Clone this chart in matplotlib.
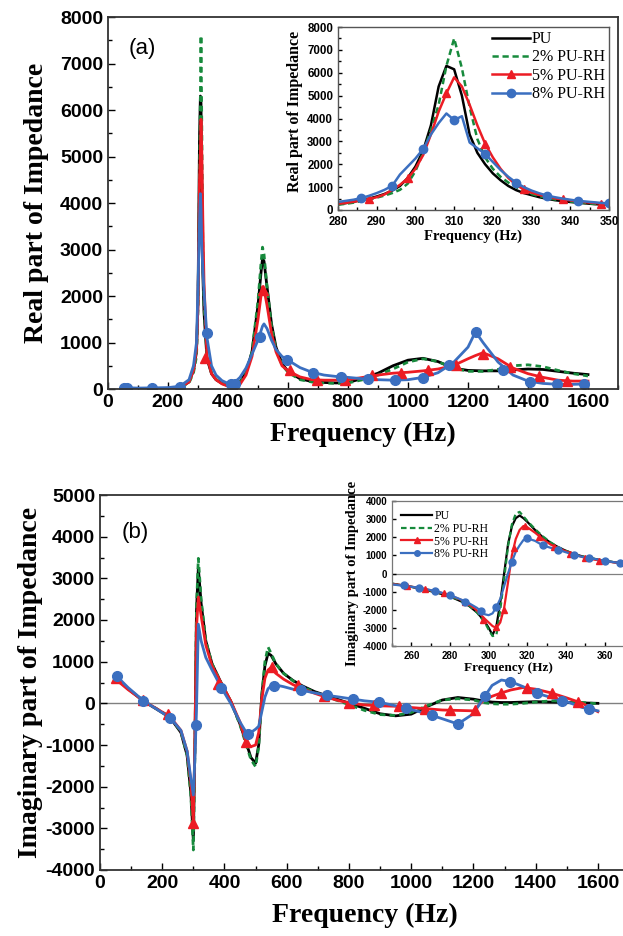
import matplotlib
matplotlib.use('Agg')
import matplotlib.pyplot as plt
from matplotlib.ticker import MultipleLocator
from matplotlib.lines import Line2D

plt.rcParams['font.family'] = ['Liberation Sans', 'DejaVu Sans']
plt.rcParams['font.weight'] = 'bold'
plt.rcParams['axes.unicode_minus'] = False

labels = ['PU', '2% PU-RH', '5% PU-RH', '8% PU-RH']
colors = ['#000000', '#178a3c', '#ec1c24', '#3b6fc0']

# ---------------- (a) main: real part ----------------
freq_a = [50, 100, 150, 200, 240, 270, 285, 295, 300, 305, 308, 310, 313, 316, 320, 330, 345, 360, 380, 400,
          420, 440, 460, 480, 500, 510, 515, 520, 530, 545, 560, 580, 600, 640, 680, 720, 760, 800, 850, 900,
          950, 1000, 1050, 1100, 1150, 1200, 1225, 1250, 1300, 1350, 1400, 1450, 1500, 1550, 1600]
real_pu = [10, 5, 5, 10, 30, 150, 400, 800, 1900, 5400, 6300, 6150, 4200, 2500, 1650, 650, 330, 200, 120, 80,
           80, 150, 350, 800, 1800, 2500, 2800, 2750, 2200, 1400, 900, 550, 380, 220, 160, 140, 130, 140, 230, 340,
           500, 620, 660, 590, 450, 400, 395, 390, 390, 410, 430, 420, 380, 340, 310]
real_2 = [10, 5, 5, 10, 30, 130, 350, 700, 1700, 4600, 6300, 7600, 5400, 3100, 1800, 700, 350, 210, 120, 70,
          70, 140, 340, 800, 1900, 2700, 3050, 2900, 2200, 1350, 850, 520, 360, 200, 150, 130, 120, 130, 200, 300,
          430, 580, 650, 590, 450, 380, 380, 380, 420, 500, 520, 480, 400, 330, 280]
real_5 = [15, 10, 10, 15, 40, 150, 400, 850, 1800, 4500, 5100, 5800, 5000, 3700, 2300, 700, 330, 200, 110, 60,
          50, 100, 300, 700, 1500, 2000, 2200, 2150, 1800, 1200, 800, 500, 390, 260, 200, 190, 190, 200, 250, 300,
          340, 360, 390, 430, 500, 650, 720, 780, 650, 450, 330, 250, 190, 170, 170]
real_8 = [30, 20, 25, 30, 60, 200, 500, 1000, 2200, 3600, 4200, 3900, 3000, 2600, 2100, 1100, 500, 300, 180, 120,
          130, 250, 450, 750, 1050, 1250, 1350, 1400, 1300, 1050, 850, 700, 620, 460, 360, 300, 270, 250, 220, 200,
          190, 200, 250, 350, 560, 900, 1230, 1000, 580, 300, 170, 120, 100, 100, 110]
mk_a5_f = [323, 417, 518, 607, 697, 790, 880, 975, 1065, 1160, 1250, 1340, 1435, 1530]
mk_a5_v = [660, 40, 2130, 400, 195, 200, 300, 350, 410, 515, 760, 470, 270, 170]
mk_a8_f = [55, 65, 146, 240, 329, 410, 422, 507, 596, 684, 778, 868, 957, 1050, 1137, 1227, 1317, 1407, 1497, 1587]
mk_a8_v = [30, 30, 30, 40, 1210, 100, 110, 1125, 620, 340, 260, 215, 190, 245, 510, 1225, 410, 160, 100, 100]

# ---------------- (a) inset ----------------
freq_ai = [280, 282, 284, 286, 288, 290, 292, 294, 296, 298, 300, 302, 304, 306, 308, 310, 312, 314, 316, 318,
           320, 322, 324, 326, 328, 330, 332, 334, 336, 338, 340, 342, 344, 346, 348, 350]
ri_pu = [250, 300, 360, 430, 500, 590, 700, 850, 1050, 1400, 1900, 2600, 3700, 5400, 6300, 6150, 5000, 3300, 2500, 2000,
         1600, 1300, 1050, 870, 740, 650, 560, 490, 430, 390, 350, 320, 290, 260, 240, 220]
ri_2 = [230, 270, 320, 390, 460, 540, 630, 740, 880, 1150, 1700, 2500, 3500, 4600, 6300, 7500, 6200, 4500, 3100, 2300,
        1800, 1450, 1200, 1000, 830, 700, 600, 520, 460, 410, 370, 330, 300, 270, 250, 230]
ri_5 = [270, 310, 360, 420, 480, 560, 680, 880, 1100, 1380, 1800, 2400, 3300, 4300, 5100, 5800, 5400, 4600, 3700, 2900,
        2300, 1800, 1400, 1100, 900, 760, 660, 580, 510, 460, 420, 380, 340, 310, 280, 260]
ri_8 = [350, 400, 450, 520, 620, 740, 880, 1060, 1550, 1900, 2250, 2670, 3300, 3800, 4220, 3930, 4100, 2950, 2700, 2450,
        2100, 1750, 1450, 1200, 1000, 850, 730, 630, 560, 500, 450, 400, 370, 340, 310, 290]

# ---------------- (b) main: imaginary part ----------------
freq_b = [50, 90, 140, 180, 225, 260, 280, 292, 300, 305, 310, 316, 325, 340, 360, 390, 420, 450, 470, 485,
          500, 510, 520, 530, 540, 550, 565, 590, 620, 650, 690, 730, 770, 810, 850, 900, 950, 1000, 1050, 1100,
          1150, 1200, 1230, 1260, 1290, 1320, 1360, 1400, 1450, 1500, 1550, 1600]
imag_pu = [620, 350, 50, -130, -340, -700, -1250, -2150, -3300, -1000, 2200, 3250, 2400, 1500, 950, 480, 50, -500, -950, -1300,
           -1440, -1000, 200, 900, 1200, 1150, 950, 720, 550, 420, 280, 180, 80, -20, -120, -250, -300, -260, -80, 80,
           140, 100, 60, 30, 20, 20, 30, 40, 30, 20, 10, 0]
imag_2 = [620, 350, 60, -120, -330, -680, -1250, -2200, -3520, -1200, 2300, 3480, 2500, 1500, 950, 480, 50, -520, -1000, -1350,
          -1520, -1050, 200, 1000, 1350, 1200, 950, 720, 540, 400, 260, 150, 50, -60, -170, -270, -290, -220, -60, 80,
          110, 80, 20, -10, -20, -20, 0, 30, 60, 50, 20, -10]
imag_5 = [580, 330, 60, -120, -320, -650, -1150, -1900, -2880, -900, 1800, 2550, 2100, 1400, 900, 480, 60, -450, -950, -1040,
          -1000, -700, 100, 600, 800, 860, 720, 580, 450, 350, 240, 140, 60, 0, -40, -60, -70, -100, -130, -160,
          -170, -180, 60, 170, 250, 320, 380, 340, 250, 130, 0, -200]
imag_8 = [680, 380, 60, -130, -344, -650, -1150, -1800, -2200, -1300, -200, 1900, 1500, 1100, 800, 376, 0, -450, -700, -700,
          -620, -550, -200, 150, 350, 420, 440, 400, 340, 310, 250, 192, 150, 105, 60, 24, -60, -150, -250, -370,
          -496, -250, 100, 430, 560, 520, 400, 250, 140, 40, -100, -180]
mk_b5_f = [50, 137, 218, 300, 378, 468, 552, 636, 720, 800, 880, 962, 1045, 1125, 1205, 1290, 1372, 1452, 1537]
mk_b5_v = [600, 80, -260, -2880, 460, -920, 880, 440, 180, 0, -50, -70, -130, -160, -170, 250, 380, 240, 40]
mk_b8_f = [54, 139, 225, 308, 389, 475, 560, 646, 729, 812, 898, 982, 1067, 1151, 1236, 1318, 1404, 1486, 1571]
mk_b8_v = [655, 56, -344, -520, 376, -736, 424, 320, 192, 104, 24, -120, -280, -496, 184, 520, 240, 56, -144]

# ---------------- (b) inset ----------------
freq_bi = [250, 256, 262, 268, 274, 280, 286, 290, 294, 298, 300, 302, 304, 306, 308, 310, 312, 314, 316, 318,
           320, 324, 328, 332, 336, 340, 345, 350, 355, 360, 365, 370]
ii_pu = [-560, -660, -780, -920, -1080, -1270, -1550, -1800, -2150, -2650, -3000, -3400, -2900, -1600, 0, 1600, 2600, 3050, 3200, 3050,
         2850, 2400, 2000, 1700, 1450, 1250, 1050, 900, 800, 700, 620, 550]
ii_2 = [-560, -650, -770, -900, -1060, -1250, -1520, -1780, -2150, -2700, -3100, -3450, -3400, -2000, -300, 1500, 2700, 3300, 3400, 3150,
        2900, 2450, 2050, 1720, 1450, 1250, 1050, 900, 800, 700, 620, 550]
ii_5 = [-580, -660, -760, -880, -1020, -1200, -1470, -1700, -2050, -2500, -2700, -2900, -3000, -2700, -1900, -500, 1000, 1900, 2400, 2620,
        2550, 2250, 1900, 1600, 1400, 1220, 1020, 860, 760, 680, 610, 550]
ii_8 = [-600, -680, -760, -870, -1010, -1190, -1450, -1650, -1900, -2250, -2300, -2200, -1850, -1400, -700, 0, 640, 1200, 1550, 1850,
        1940, 1800, 1550, 1420, 1310, 1170, 1000, 880, 800, 700, 620, 560]
mk_bi5_f = [258, 267, 277, 288, 297, 304, 308, 313, 319, 326, 334, 342, 350, 357]
mk_bi5_v = [-670, -860, -1100, -1570, -2550, -2950, -2000, 1400, 2620, 1990, 1460, 1050, 840, 710]
mk_bi8_f = [256, 264, 272, 280, 288, 296, 304, 312, 320, 328, 336, 344, 352, 360, 368]
mk_bi8_v = [-650, -780, -960, -1190, -1570, -2090, -1850, 640, 1940, 1550, 1310, 1030, 850, 700, 560]

W, H = 623, 936
fig = plt.figure(figsize=(W / 100, H / 100), dpi=100)


def rect(l, t, r, b):
    return [l / W, 1 - b / H, (r - l) / W, (b - t) / H]


serif = ['Liberation Serif', 'DejaVu Serif']


def style(ax, size, major_len, minor_len, spine_c, spine_w):
    for s in ax.spines.values():
        s.set_linewidth(spine_w)
        s.set_color(spine_c)
    ax.tick_params(which='both', direction='in', top=False, right=False, labelsize=size, width=1.0)
    ax.tick_params(which='major', length=major_len)
    ax.tick_params(which='minor', length=minor_len)
    for lab in ax.get_xticklabels() + ax.get_yticklabels():
        lab.set_fontweight('bold')


def draw(ax, f, series, lw, mk5, mk8, ms, dashed_pat):
    pu, s2, s5, s8 = series
    ax.plot(f, pu, color=colors[0], lw=lw, label=labels[0])
    ax.plot(f, s2, color=colors[1], lw=lw, ls=(0, dashed_pat), label=labels[1])
    ax.plot(f, s5, color=colors[2], lw=lw, label=labels[2])
    ax.plot(f, s8, color=colors[3], lw=lw, label=labels[3])
    ax.plot(mk5[0], mk5[1], ls='none', marker='^', color=colors[2], ms=ms)
    ax.plot(mk8[0], mk8[1], ls='none', marker='o', color=colors[3], ms=ms)


# ---- panel (a) ----
axA = fig.add_axes(rect(108, 17, 618, 389))
draw(axA, freq_a, (real_pu, real_2, real_5, real_8), 2.0,
     (mk_a5_f, mk_a5_v), (mk_a8_f, mk_a8_v), 7, (2, 1.5))
axA.set_xlim(0, 1700)
axA.set_ylim(0, 8000)
axA.set_xticks([0, 200, 400, 600, 800, 1000, 1200, 1400, 1600])
axA.xaxis.set_minor_locator(MultipleLocator(100))
axA.yaxis.set_major_locator(MultipleLocator(1000))
axA.yaxis.set_minor_locator(MultipleLocator(500))
style(axA, 14, 5, 3, '#333333', 1.3)
axA.set_xlabel('Frequency (Hz)', family=serif, fontweight='bold', fontsize=20, labelpad=8)
axA.set_ylabel('Real part of Impedance', family=serif, fontweight='bold', fontsize=20, labelpad=8)
axA.text(0.04, 0.915, '(a)', transform=axA.transAxes, fontsize=16, fontweight='normal',
         va='center', ha='left')

# inset (a)
axAi = fig.add_axes(rect(338, 27, 609, 210))
axAi.plot(freq_ai, ri_pu, color=colors[0], lw=1.8, label=labels[0])
axAi.plot(freq_ai, ri_2, color=colors[1], lw=1.8, ls=(0, (2.5, 1.5)), label=labels[1])
axAi.plot(freq_ai, ri_5, color=colors[2], lw=1.8, marker='^', ms=6, markevery=(4, 5), label=labels[2])
axAi.plot(freq_ai, ri_8, color=colors[3], lw=1.8, marker='o', ms=6, markevery=(3, 4), label=labels[3])
axAi.set_xlim(280, 350)
axAi.set_ylim(0, 8000)
axAi.xaxis.set_major_locator(MultipleLocator(10))
axAi.xaxis.set_minor_locator(MultipleLocator(5))
axAi.yaxis.set_major_locator(MultipleLocator(1000))
axAi.yaxis.set_minor_locator(MultipleLocator(500))
style(axAi, 8.3, 3, 2, '#555555', 1.0)
axAi.tick_params(axis='x', pad=4.5)
axAi.tick_params(axis='y', pad=3.5)
axAi.set_xlabel('Frequency (Hz)', family=serif, fontweight='bold', fontsize=10.5, labelpad=1)
axAi.set_ylabel('Real part of Impedance', family=serif, fontweight='bold', fontsize=11.5, labelpad=3, y=0.54)
axAi.legend(loc='upper right', bbox_to_anchor=(1.02, 1.03), frameon=False,
            prop={'family': serif, 'size': 11.5, 'weight': 'normal'},
            handlelength=2.4, handletextpad=0.1, labelspacing=0.15, borderaxespad=0.2)

# ---- panel (b) ----
axB = fig.add_axes(rect(100, 495, 629, 870))
axB.axhline(0, color='#808080', lw=1.0, zorder=1)
draw(axB, freq_b, (imag_pu, imag_2, imag_5, imag_8), 2.0,
     (mk_b5_f, mk_b5_v), (mk_b8_f, mk_b8_v), 7, (2, 1.5))
axB.set_xlim(0, 1700)
axB.set_ylim(-4000, 5000)
axB.set_xticks([0, 200, 400, 600, 800, 1000, 1200, 1400, 1600])
axB.xaxis.set_minor_locator(MultipleLocator(100))
axB.yaxis.set_major_locator(MultipleLocator(1000))
axB.yaxis.set_minor_locator(MultipleLocator(500))
style(axB, 14, 5, 3, '#333333', 1.3)
axB.set_xlabel('Frequency (Hz)', family=serif, fontweight='bold', fontsize=20, labelpad=8)
axB.set_ylabel('Imaginary part of Impedance', family=serif, fontweight='bold', fontsize=20, labelpad=2)
axB.text(0.04, 0.9, '(b)', transform=axB.transAxes, fontsize=16, fontweight='normal',
         va='center', ha='left')

# inset (b)
axBi = fig.add_axes(rect(392, 501, 624, 646))
axBi.axhline(0, color='#808080', lw=0.9, zorder=1)
draw(axBi, freq_bi, (ii_pu, ii_2, ii_5, ii_8), 1.6,
     (mk_bi5_f, mk_bi5_v), (mk_bi8_f, mk_bi8_v), 5, (2.5, 1.5))
axBi.set_xlim(250, 370)
axBi.set_ylim(-4000, 4000)
axBi.xaxis.set_major_locator(MultipleLocator(20))
axBi.xaxis.set_minor_locator(MultipleLocator(10))
axBi.yaxis.set_major_locator(MultipleLocator(1000))
style(axBi, 7, 3, 2, '#777777', 0.9)
axBi.set_xlabel('Frequency (Hz)', family=serif, fontweight='bold', fontsize=9.5, labelpad=1)
axBi.set_ylabel('Imaginary part of Impedance', family=serif, fontweight='bold', fontsize=10.5, labelpad=2)
handles = [Line2D([], [], color=colors[0], lw=1.6),
           Line2D([], [], color=colors[1], lw=1.6, ls=(0, (2.5, 1.5))),
           Line2D([], [], color=colors[2], lw=1.6, marker='^', ms=4),
           Line2D([], [], color=colors[3], lw=1.6, marker='o', ms=4)]
axBi.legend(handles, labels, loc='upper left', bbox_to_anchor=(0.0, 1.0), frameon=False,
            prop={'family': serif, 'size': 8.5, 'weight': 'normal'},
            handlelength=2.6, handletextpad=0.2, labelspacing=0.05, borderaxespad=0.4)

fig.savefig('out.png', dpi=100)
